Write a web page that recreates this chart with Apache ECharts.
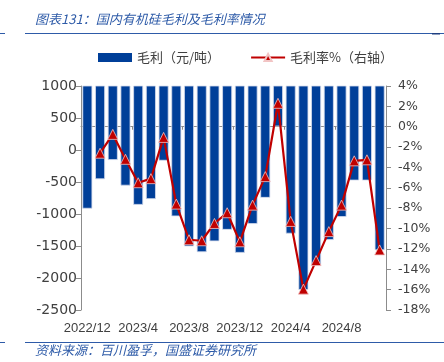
<!DOCTYPE html>
<html><head><meta charset="utf-8">
<script src="https://cdn.jsdelivr.net/npm/echarts@6/dist/echarts.min.js"></script>
<style>html,body{margin:0;padding:0;background:#fff}#c{width:444px;height:362px}</style>
</head><body><div id="c"></div>
<script>
const categories = ['2022/12','2023/1','2023/2','2023/3','2023/4','2023/5','2023/6','2023/7','2023/8','2023/9','2023/10','2023/11','2023/12','2024/1','2024/2','2024/3','2024/4','2024/5','2024/6','2024/7','2024/8','2024/9','2024/10','2024/11'];
const grossProfit = [-910,-450,-150,-550,-850,-760,-160,-1030,-1500,-1590,-1420,-1240,-1600,-1150,-740,375,-1300,-2180,-1800,-1400,-1040,-470,-470,-1560];
const marginPct = [null,-2.6,-0.75,-3.2,-5.5,-5.1,-1.05,-7.6,-11.1,-11.2,-9.5,-8.45,-11.3,-7.7,-4.9,2.3,-9.3,-15.95,-13.15,-10.3,-7.7,-3.35,-3.25,-12.1];
const leftAxis = {min:-2500, max:1000, interval:500};
const rightAxis = {min:-18, max:4, interval:2};
const seriesNames = ['毛利（元/吨）','毛利率%（右轴）'];
const titleText = '图表131：国内有机硅毛利及毛利率情况';
const sourceText = '资料来源：百川盈孚，国盛证券研究所';

const blue = '#2e5ba8';
const chart = echarts.init(document.getElementById('c'), null, {renderer:'canvas'});
chart.setOption({
  animation:false,
  backgroundColor:'#fff',
  graphic:[
    {type:'text', left:35, top:13, style:{text:titleText, font:'italic 13px "Noto Sans CJK SC"', fill:blue}},
    {type:'rect', shape:{x:25,y:33,width:419,height:1}, style:{fill:blue}},
    {type:'rect', shape:{x:0,y:33,width:5,height:1}, style:{fill:blue}},
    {type:'rect', shape:{x:432,y:33,width:8,height:1.5}, style:{fill:'#1f3f80'}},
    {type:'rect', shape:{x:25,y:342,width:419,height:1}, style:{fill:blue}},
    {type:'rect', shape:{x:0,y:342,width:5,height:1}, style:{fill:blue}},
    {type:'text', left:35, top:344, style:{text:sourceText, font:'italic 13px "Noto Sans CJK SC"', fill:blue}}
  ],
  legend:{
    top:46, left:93, itemGap:30, itemWidth:34, itemHeight:9,
    textStyle:{fontFamily:'"Noto Sans CJK SC"', fontSize:13, color:'#404040'},
    data:[{name:seriesNames[0], icon:'rect'},{name:seriesNames[1]}]
  },
  grid:{left:81, right:58, top:86, bottom:52},
  xAxis:[
    {type:'category', data:categories, position:'bottom', boundaryGap:true,
     axisLine:{show:false}, axisTick:{show:false},
     axisLabel:{interval:3, margin:12, color:'#404040', fontFamily:'Liberation Sans', fontSize:13}},
    {type:'category', data:categories, position:'top', boundaryGap:true,
     axisLine:{show:true, lineStyle:{color:'#8c8c8c', width:1}},
     axisTick:{show:true, interval:3, inside:true, length:3, lineStyle:{color:'#8c8c8c'}},
     axisLabel:{show:false}}
  ],
  yAxis:[
    {type:'value', min:leftAxis.min, max:leftAxis.max, interval:leftAxis.interval,
     splitLine:{show:false},
     axisLine:{show:true, lineStyle:{color:'#8c8c8c'}},
     axisTick:{show:true, length:5, lineStyle:{color:'#8c8c8c'}},
     axisLabel:{margin:4, color:'#404040', fontFamily:'DejaVu Sans', fontSize:14, formatter:function(v){return String(v);}}},
    {type:'value', min:rightAxis.min, max:rightAxis.max, interval:rightAxis.interval, position:'right',
     splitLine:{show:false},
     axisLine:{show:true, lineStyle:{color:'#8c8c8c'}},
     axisTick:{show:true, length:5, lineStyle:{color:'#8c8c8c'}},
     axisLabel:{margin:12, color:'#404040', fontFamily:'DejaVu Sans', fontSize:12.5, formatter:function(v){return v+'%';}}}
  ],
  series:[
    {name:seriesNames[0], type:'custom', xAxisIndex:0, yAxisIndex:0,
     itemStyle:{color:'#003f99'},
     encode:{x:0, y:1},
     data:grossProfit.map((v,i)=>[i,v]),
     renderItem:function(params, api){
       const i = api.value(0), v = api.value(1);
       const top = api.coord([i, leftAxis.max]);
       const bot = api.coord([i, v]);
       const w = api.size([1,0])[0]*0.72;
       return {type:'rect', shape:{x:top[0]-w/2, y:top[1], width:w, height:bot[1]-top[1]},
               style:{fill:'#003f99', stroke:'#d5dcec', lineWidth:0.8}};
     }},
    {name:seriesNames[1], type:'line', xAxisIndex:0, yAxisIndex:1,
     data:marginPct, connectNulls:false, showAllSymbol:true,
     symbol:'triangle', symbolSize:10,
     lineStyle:{color:'#c00000', width:2.2},
     itemStyle:{color:'#c00000', borderColor:'#f2c4c4', borderWidth:0.8}}
  ]
});
</script></body></html>
